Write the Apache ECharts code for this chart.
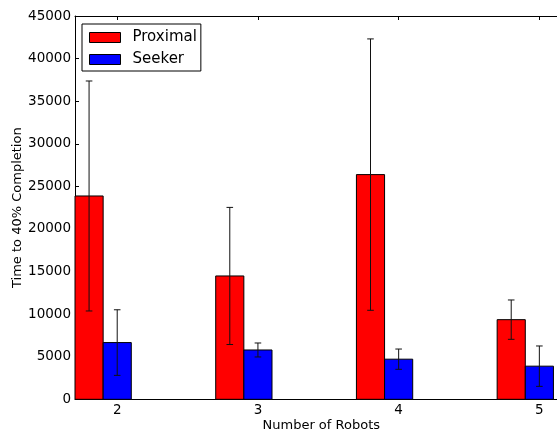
<!DOCTYPE html>
<html>
<head>
<meta charset="utf-8">
<script src="https://cdn.jsdelivr.net/npm/echarts@6/dist/echarts.min.js"></script>
<style>
html,body{margin:0;padding:0;background:#fff;}
#chart{width:557px;height:430px;}
</style>
</head>
<body>
<div id="chart"></div>
<script>
const categories = [2, 3, 4, 5];
const proximalMeans = [23870, 14480, 26380, 9350];
const proximalErr = [13500, 8050, 15930, 2310];
const seekerMeans = [6660, 5790, 4710, 3890];
const seekerErr = [3850, 820, 1190, 2370];
const yTicks = [0, 5000, 10000, 15000, 20000, 25000, 30000, 35000, 40000, 45000];
const seriesNames = ['Proximal', 'Seeker'];

const FONT = 'DejaVu Sans';
const BAR_W = 0.2;

function makeRender(offset, color) {
  return function (params, api) {
    const x = api.value(0), y = api.value(1), e = api.value(2);
    const c = x + offset;
    const tl = api.coord([c - BAR_W / 2, y]);
    const br = api.coord([c + BAR_W / 2, 0]);
    const top = api.coord([c, y + e]);
    const bot = api.coord([c, y - e]);
    const cap = 3.3;
    const ls = { stroke: '#111', lineWidth: 1 };
    return {
      type: 'group',
      children: [
        { type: 'rect', shape: { x: tl[0], y: tl[1], width: br[0] - tl[0], height: br[1] - tl[1] },
          style: { fill: color, stroke: '#000', lineWidth: 1 } },
        { type: 'line', shape: { x1: top[0], y1: top[1], x2: bot[0], y2: bot[1] }, style: ls },
        { type: 'line', shape: { x1: top[0] - cap, y1: top[1], x2: top[0] + cap, y2: top[1] }, style: ls },
        { type: 'line', shape: { x1: bot[0] - cap, y1: bot[1], x2: bot[0] + cap, y2: bot[1] }, style: ls }
      ]
    };
  };
}

const chart = echarts.init(document.getElementById('chart'), null, { renderer: 'canvas' });
const axisCommon = {
  type: 'value', min: 1.7, max: 5.2,
  axisLine: { lineStyle: { color: '#000', width: 1 } },
  axisTick: { inside: true, length: 4, customValues: categories, lineStyle: { color: '#000' } },
  splitLine: { show: false }
};
chart.setOption({
  animation: false,
  backgroundColor: '#fff',
  grid: { left: 75, top: 16, width: 492.5, height: 383.3, containLabel: false, outerBoundsMode: 'none' },
  legend: {
    orient: 'vertical', left: 82, top: 24,
    padding: [6, 4, 4, 7], itemGap: 7,
    itemWidth: 31, itemHeight: 10, icon: 'rect',
    backgroundColor: '#fff', borderColor: '#000', borderWidth: 1, borderRadius: 0,
    textStyle: { fontFamily: FONT, fontSize: 15, color: '#000', lineHeight: 15, padding: [0, 0, 0, 7] },
    data: [
      { name: seriesNames[0], itemStyle: { color: '#ff0000', borderColor: '#000', borderWidth: 1 } },
      { name: seriesNames[1], itemStyle: { color: '#0000ff', borderColor: '#000', borderWidth: 1 } }
    ]
  },
  xAxis: [
    Object.assign({}, axisCommon, {
      position: 'bottom',
      name: 'Number of Robots', nameLocation: 'middle', nameGap: 20, nameMoveOverlap: false,
      nameTextStyle: { fontFamily: FONT, fontSize: 13, color: '#000' },
      axisLabel: { customValues: categories, margin: 4, fontFamily: FONT, fontSize: 13.5, color: '#000',
        formatter: v => String(v) }
    }),
    Object.assign({}, axisCommon, { position: 'top', axisLabel: { show: false } })
  ],
  yAxis: [{
    type: 'value', min: yTicks[0], max: yTicks[yTicks.length - 1], interval: 5000,
    axisLine: { show: true, lineStyle: { color: '#000', width: 1 } },
    axisTick: { show: true, inside: true, length: 4, lineStyle: { color: '#000' } },
    splitLine: { show: false },
    name: 'Time to 40% Completion', nameLocation: 'middle', nameGap: 51, nameRotate: 90, nameMoveOverlap: false,
    nameTextStyle: { fontFamily: FONT, fontSize: 13, color: '#000' },
    axisLabel: { margin: 4, fontFamily: FONT, fontSize: 13.5, color: '#000', formatter: v => String(v) }
  }],
  series: [
    {
      name: seriesNames[0], type: 'custom', xAxisIndex: 0, yAxisIndex: 0,
      itemStyle: { color: '#ff0000' },
      encode: { x: 0, y: 1 },
      renderItem: makeRender(-0.2, '#ff0000'),
      data: categories.map((c, i) => [c, proximalMeans[i], proximalErr[i]])
    },
    {
      name: seriesNames[1], type: 'custom', xAxisIndex: 0, yAxisIndex: 0,
      itemStyle: { color: '#0000ff' },
      encode: { x: 0, y: 1 },
      renderItem: makeRender(0, '#0000ff'),
      data: categories.map((c, i) => [c, seekerMeans[i], seekerErr[i]])
    }
  ]
});
</script>
</body>
</html>
